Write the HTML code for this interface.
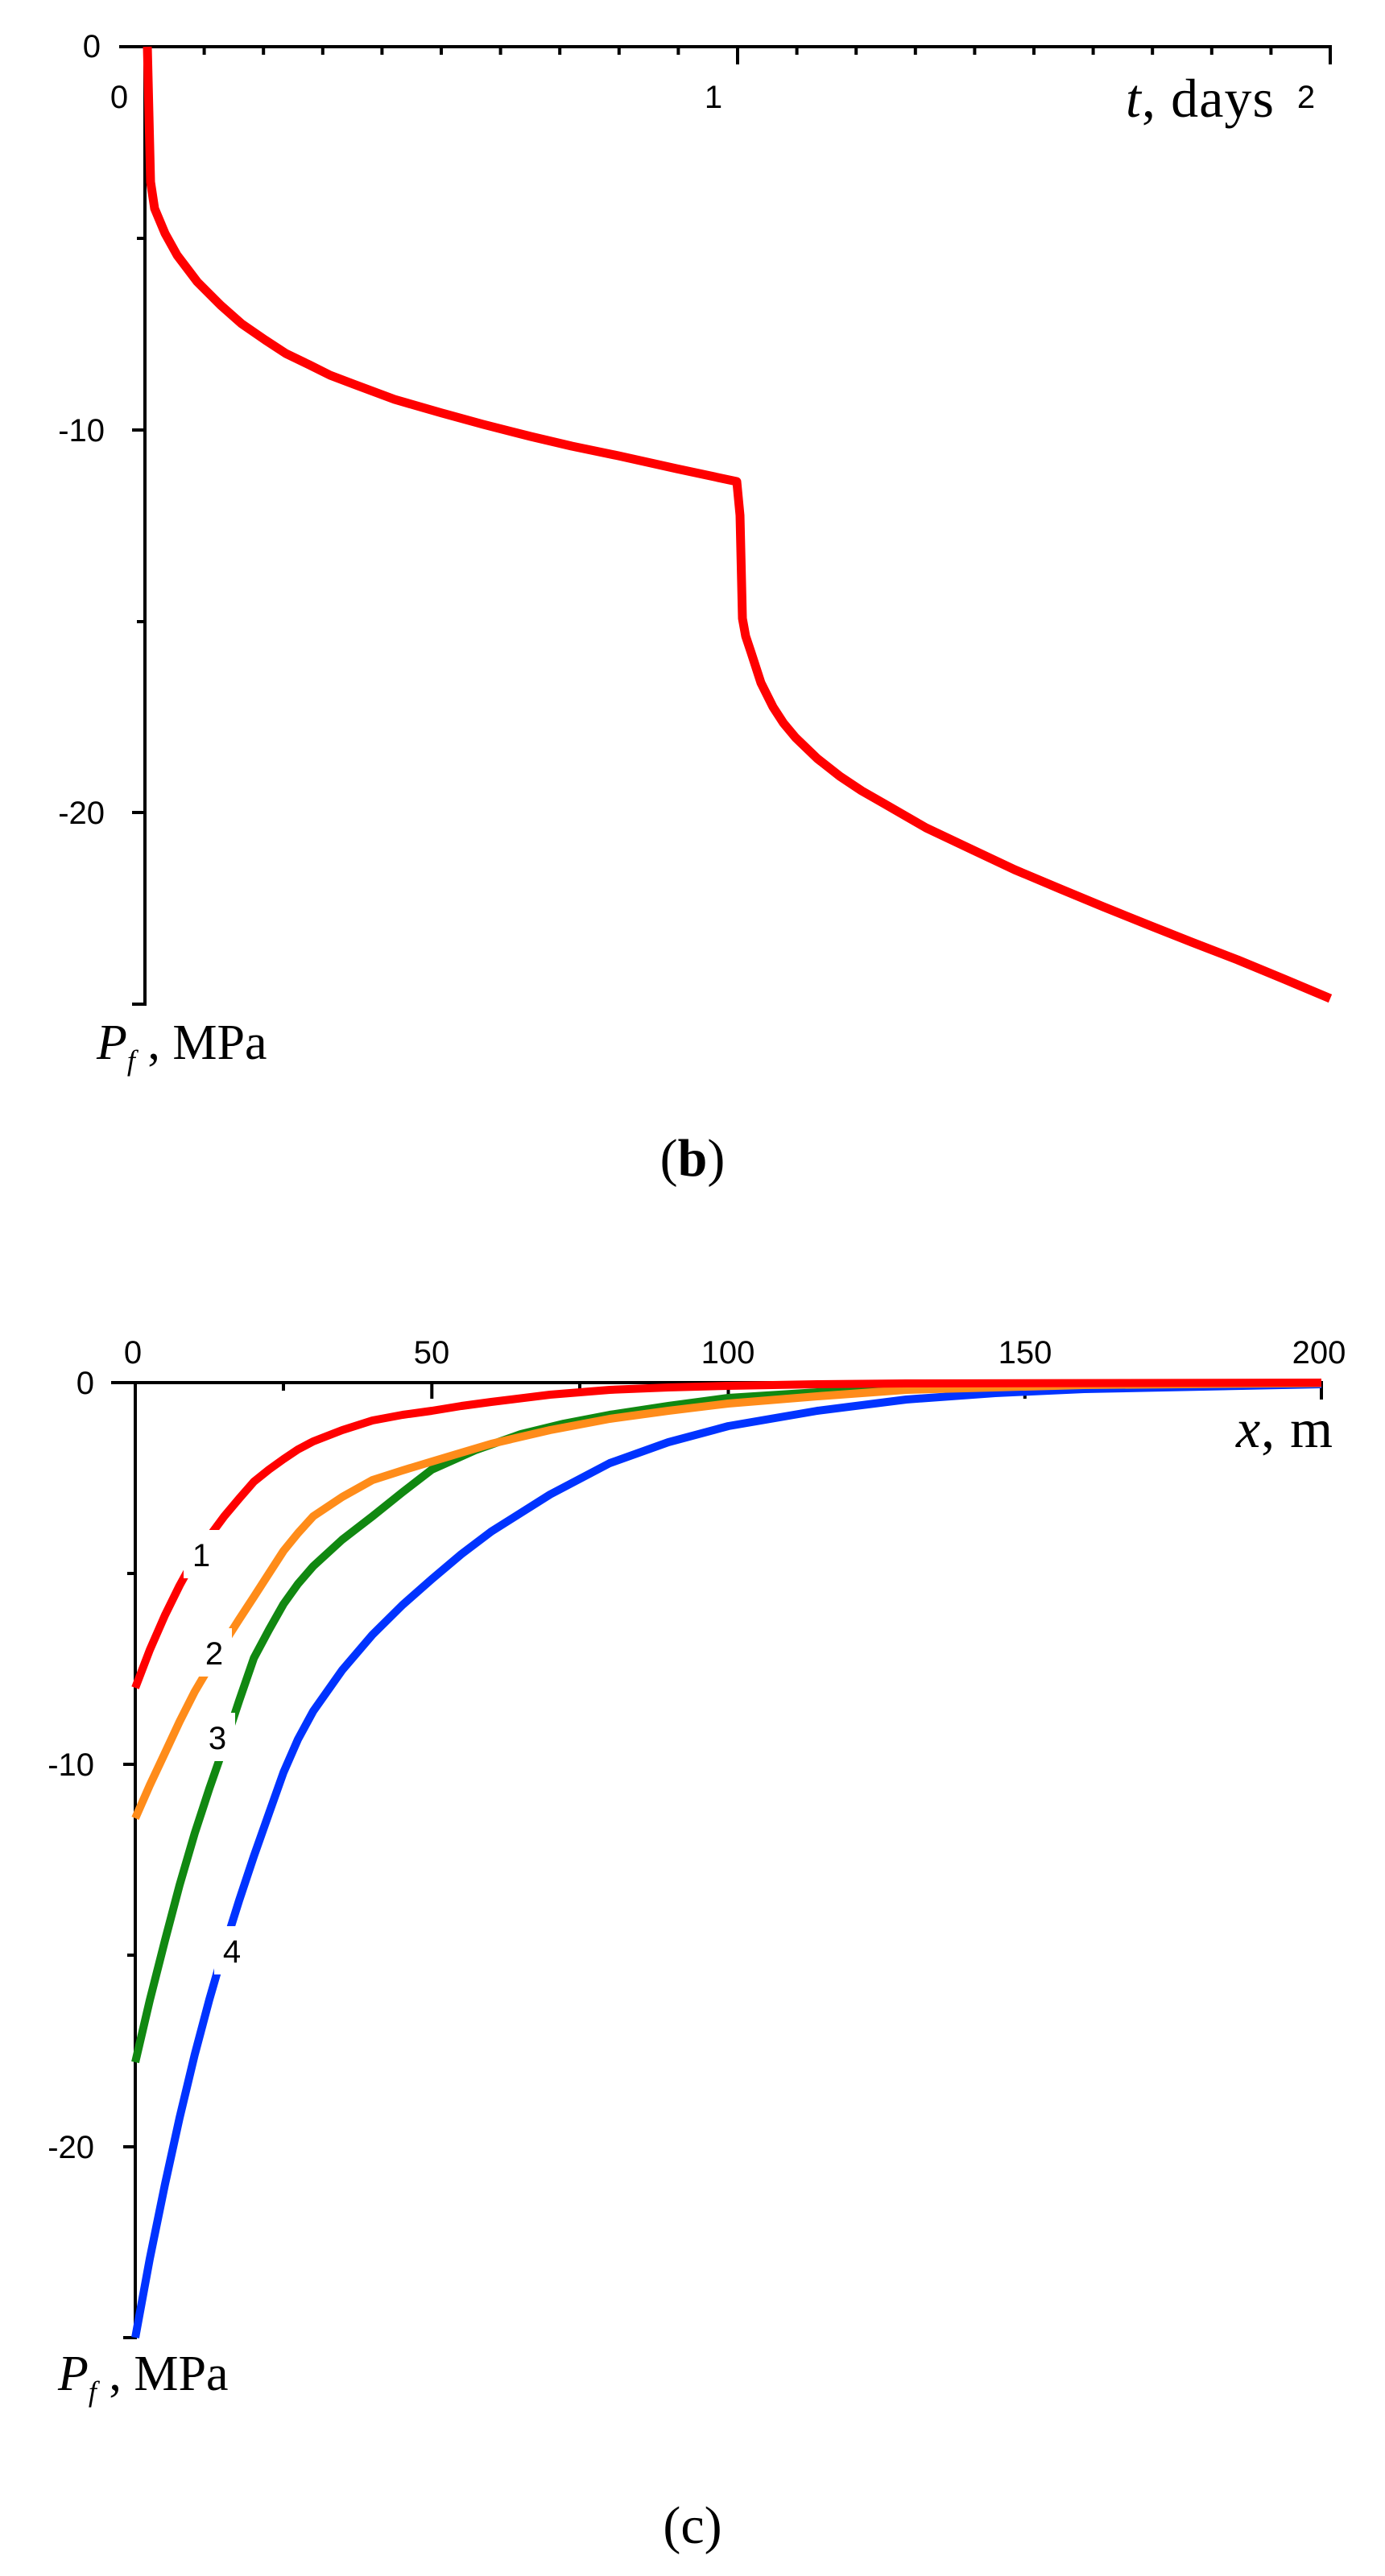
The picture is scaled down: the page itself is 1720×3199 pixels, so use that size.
<!DOCTYPE html>
<html><head><meta charset="utf-8"><style>
html,body{margin:0;padding:0;background:#fff}
svg{display:block}
.a{font-family:"Liberation Sans",Arial,sans-serif;font-size:40px;fill:#000}
.s{font-family:"Liberation Serif","Times New Roman",serif;fill:#000}
</style></head><body>
<svg width="1720" height="3199" viewBox="0 0 1720 3199" xmlns="http://www.w3.org/2000/svg">
<!-- Plot b -->
<g stroke="#000" stroke-width="4" fill="none">
<line x1="148" y1="58" x2="1654" y2="58"/>
<line x1="180" y1="56" x2="180" y2="1249"/>
<line x1="164" y1="1247" x2="180" y2="1247"/>
<line x1="164" y1="534" x2="180" y2="534"/>
<line x1="164" y1="1009" x2="180" y2="1009"/>
<line x1="170" y1="296" x2="180" y2="296"/>
<line x1="170" y1="772" x2="180" y2="772"/>
<line x1="916" y1="58" x2="916" y2="80"/>
<line x1="1652" y1="58" x2="1652" y2="80"/>
<path d="M253.6 58v10M327.2 58v10M400.8 58v10M474.4 58v10M548 58v10M621.6 58v10M695.2 58v10M768.8 58v10M842.4 58v10M989.6 58v10M1063.2 58v10M1136.8 58v10M1210.4 58v10M1284 58v10M1357.6 58v10M1431.2 58v10M1504.8 58v10M1578.4 58v10"/>
</g>
<polyline fill="none" stroke="#ff0000" stroke-width="11" stroke-linejoin="round" points="183,58 187,226 192,259 205,290 220,317 245,350 274,379 300,402 329,422 355,439 384,453 410,466 439,477 490,496 549,513 600,527 659,542 710,554 768,566 840,582 915,598 919,640 922,768 926,790 933,811 945,848 960,878 973,898 988,916 1015,942 1043,964 1070,982 1098,998 1150,1028 1207,1055 1260,1080 1317,1104 1370,1126 1427,1149 1480,1170 1537,1192 1595,1216 1652,1240"/>
<text class="a" x="125" y="71" text-anchor="end" font-size="42">0</text>
<text class="a" x="130" y="548" text-anchor="end" font-size="42">-10</text>
<text class="a" x="130" y="1023" text-anchor="end" font-size="42">-20</text>
<text class="a" x="148" y="134" text-anchor="middle">0</text>
<text class="a" x="886" y="134" text-anchor="middle">1</text>
<text class="a" x="1622" y="134" text-anchor="middle">2</text>
<text class="s" x="1398" y="145" font-size="68" textLength="184" lengthAdjust="spacing"><tspan font-style="italic">t</tspan>, days</text>
<text class="s" x="120" y="1315" font-size="62"><tspan font-style="italic">P</tspan><tspan font-style="italic" font-size="36" dy="14">f</tspan><tspan dy="-14"> , MPa</tspan></text>
<text class="s" x="860" y="1460" font-size="66" text-anchor="middle">(<tspan font-weight="bold">b</tspan>)</text>

<!-- Plot c -->
<g stroke="#000" stroke-width="4" fill="none">
<line x1="138" y1="1717" x2="1643" y2="1717"/>
<line x1="168" y1="1715" x2="168" y2="2905"/>
<line x1="153" y1="2903" x2="168" y2="2903"/>
<line x1="153" y1="2191" x2="168" y2="2191"/>
<line x1="153" y1="2666" x2="168" y2="2666"/>
<line x1="158" y1="1954" x2="168" y2="1954"/>
<line x1="158" y1="2428" x2="168" y2="2428"/>
<path d="M536.3 1717v20M904.5 1717v20M1272.8 1717v20M1641 1717v21M352 1717v10M720 1717v10M1088.6 1717v10M1457 1717v10"/>
</g>
<g fill="none" stroke-width="10" stroke-linejoin="round">
<polyline stroke="#0033ff" points="168,2903 186,2805 204.8,2713 223,2630 241.7,2552 260,2483 278.5,2419 297,2360 315.3,2305 334,2252 352.1,2201 370,2160 389,2125 425,2074 462.6,2030 500,1993 536.3,1961 573,1930 610,1902 683,1856 757.2,1817 830,1791 904.5,1771 1015,1752 1125.5,1738 1236,1730 1346.4,1725 1641,1719"/>
<polyline stroke="#118811" points="168,2561 186,2484 204.8,2410 223,2341 241.7,2277 260,2221 278.5,2168 297,2112 315.3,2059 334,2024 352.1,1992 370,1967 389,1945 425,1912 462.6,1883 500,1853 536.3,1825 590,1801 646.7,1781 700,1768 757.2,1757 830,1746 904.5,1736 1015,1729 1125.5,1723 1346.4,1718.4 1641,1717.5"/>
<polyline stroke="#ff8c1a" points="168,2258 186,2217 204.8,2177 223,2138 241.7,2101 260,2070 278.5,2040 297,2011 315.3,1983 334,1954 352.1,1926 370,1904 389,1883 425,1859 462.6,1838 500,1826 536.3,1815 573,1804 610,1793 683,1776 757.2,1762 830,1752 904.5,1743 1015,1734 1125.5,1726 1346.4,1720 1641,1717.5"/>
<polyline stroke="#ff0000" points="168,2096 186,2049 204.8,2006 223,1969 241.7,1935 260,1908 278.5,1883 297,1861 315.3,1840 334,1825 352.1,1812 370,1800 389,1790 425,1776 462.6,1764 500,1757 536.3,1752 573,1746 610,1741 683,1732 757.2,1726 830,1723 904.5,1721 1015,1719 1125.5,1718 1641,1717"/>
</g>
<g fill="#fff">
<rect x="228" y="1900" width="44" height="60"/>
<rect x="244" y="2022" width="44" height="60"/>
<rect x="248" y="2127" width="44" height="60"/>
<rect x="266" y="2392" width="44" height="60"/>
</g>
<text class="a" x="250" y="1945" text-anchor="middle">1</text>
<text class="a" x="266" y="2067" text-anchor="middle">2</text>
<text class="a" x="270" y="2172" text-anchor="middle">3</text>
<text class="a" x="288" y="2437" text-anchor="middle">4</text>
<text class="a" x="165" y="1693" text-anchor="middle">0</text>
<text class="a" x="536" y="1693" text-anchor="middle">50</text>
<text class="a" x="904" y="1693" text-anchor="middle">100</text>
<text class="a" x="1273" y="1693" text-anchor="middle">150</text>
<text class="a" x="1638" y="1693" text-anchor="middle">200</text>
<text class="a" x="117" y="1731" text-anchor="end" font-size="42">0</text>
<text class="a" x="117" y="2205" text-anchor="end" font-size="42">-10</text>
<text class="a" x="117" y="2680" text-anchor="end" font-size="42">-20</text>
<text class="s" x="1535" y="1797" font-size="68" textLength="120" lengthAdjust="spacing"><tspan font-style="italic">x</tspan>, m</text>
<text class="s" x="72" y="2968" font-size="62"><tspan font-style="italic">P</tspan><tspan font-style="italic" font-size="36" dy="14">f</tspan><tspan dy="-14"> , MPa</tspan></text>
<text class="s" x="860" y="3158" font-size="66" text-anchor="middle">(c)</text>
</svg>
</body></html>
